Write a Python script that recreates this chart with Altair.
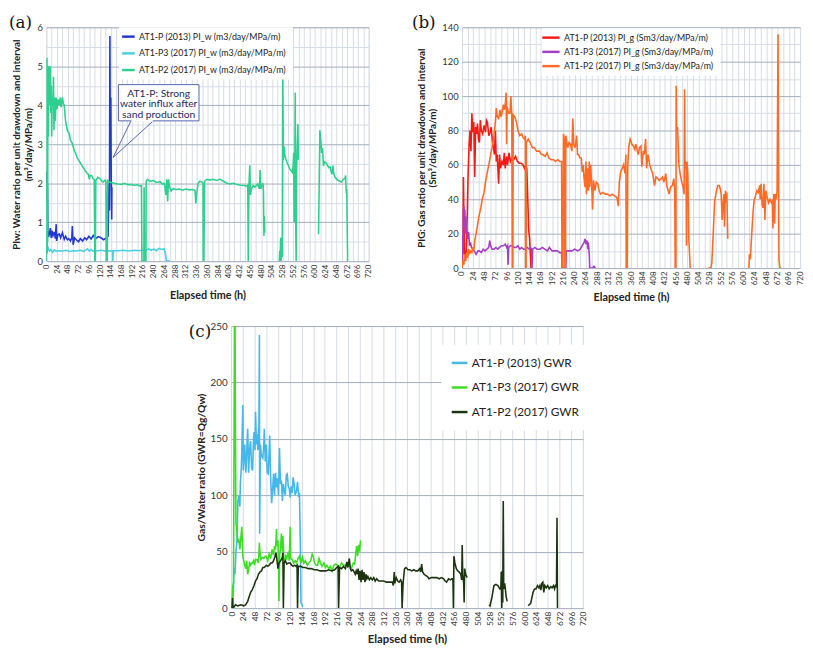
import altair as alt
import pandas as pd

FONT = "Lato"

# ---------------- Panel (a): PI_w ----------------
A_NAMES = ["AT1-P (2013) PI_w (m3/day/MPa/m)",
           "AT1-P3 (2017) PI_w (m3/day/MPa/m)",
           "AT1-P2 (2017) PI_w  (m3/day/MPa/m)"]
A_COLORS = ["#2238d0", "#48cfe3", "#2fcf8f"]

A_P = [(0.5,2.3),(1.5,1.5),(2.5,2.0),(3.5,0.8),(5,0.62),(7,0.7),(9,0.85),(11,0.6),(13,0.78),(15,0.66),
       (18,0.75),(20,0.58),(22,0.95),(23,0.52),(26,0.68),(29,0.7),(32,0.6),(36,0.73),(40,0.56),(43,0.64),
       (47,0.55),(50,0.58),(54,0.52),(57,0.6),(58,0.9),(60,0.42),(63,0.6),(67,0.55),(72,0.5),(76,0.58),
       (81,0.52),(86,0.6),(90,0.55),(95,0.64),(100,0.57),(105,0.66),(110,0.58),(116,0.63),(122,0.6),
       (128,0.55),(134,0.6),(138,0.64),(140,2.0),(141,1.3),(142,5.78),(143,2.6),(144,4.2),(145,2.1),
       (146,1.07),(146.5,1.9)]
A_P3 = [(0,0),(0.5,2.0),(1.5,0.45),(3,0.38),(5,0.3),(7,0.26),(10,0.3),(14,0.23),(18,0.29),(22,0.25),
        (28,0.27),(36,0.26),(44,0.28),(52,0.25),(60,0.27),(68,0.26),(76,0.28),(84,0.25),(92,0.32),(96,0.26),
        (100,0.3),(104,0.26),(108,0.27),(108.5,0),(109.5,0.27),(116,0.27),(123,0.28),(131,0.26),(138,0.27),
        (145,0.26),(148,0.25),(148.5,0),(149.5,0.27),(160,0.27),(172,0.28),(184,0.26),(196,0.28),(208,0.27),
        (216,0.3),(222,0.27),(228,0.32),(234,0.28),(240,0.31),(246,0.27),(252,0.33),(258,0.3),(263,0.32),
        (266,0.2),(268,0.02),(276,0)]
A_P2 = [(0,0),(0.5,5.2),(1,1.5),(1.5,5.22),(2,0.2),(2.5,5.0),(3,0.5),(3.5,4.9),(4.5,3.2),(5.5,5.0),(7,4.0),
        (9,5.0),(10,3.8),(11,4.5),(12,3.2),(13,4.1),(14.5,4.0),(16,4.73),(17,3.36),(19,4.2),(20,3.6),(22,4.2),
        (24,3.9),(26,4.15),(29,4.0),(31,4.2),(33,3.95),(36,4.2),(38,4.05),(40,4.0),(43,3.6),(47,3.35),
        (51,3.28),(54,3.1),(58,3.03),(62,2.85),(65,2.78),(69,2.65),(72,2.6),(76,2.52),(80,2.44),(84,2.38),
        (87,2.32),(91,2.25),(94,2.23),(96,2.1),(98,2.2),(101,2.2),(104,2.12),(107,2.1),(108.5,0),(109.5,0),
        (110.5,2.07),(115,2.15),(120,2.12),(124,2.05),(127,2.03),(131,2.08),(133,2.05),(134,0),(136,0),
        (137,2.07),(141,2.03),(145,2.02),(152,2.0),(160,1.98),(168,1.97),(174,2.0),(182,1.96),(189,1.97),
        (196,1.95),(203,1.96),(209,1.93),(212.5,1.94),(213.5,0),(218,0),(218.5,1.9),(219,0.05),(222.5,0),
        (223,2.05),(226,2.1),(232,2.05),(239,2.07),(246,2.02),(254,2.04),(259,1.98),(263,2.0),(265,1.9),
        (267,1.7),(269,2.1),(271,1.53),(273,2.1),(275.5,1.9),(279,1.8),(283,1.86),(290,1.84),(297,1.85),
        (305,1.82),(312,1.85),(319,1.83),(326,1.84),(332,1.82),(334,1.48),(336,1.75),(339,2.0),(343,2.05),
        (348,2.03),(350,2.0),(350.5,0),(352,0),(353.5,2.05),(358,2.1),(365,2.08),(372,2.1),(380,2.07),
        (388,2.1),(396,2.05),(403,2.0),(410,1.98),(418,2.0),(426,1.97),(434,1.95),(442,1.94),(448,1.92),
        (450,1.95),(451,0),(452.5,1.9),(454.5,2.46),(456,1.7),(458,1.85),(462,1.94),(466,1.9),(472,1.98),
        (476,1.85),(477.5,2.34),(479,1.86),(484,2.0),(485,1.8),(486,0.65),(487,1.15),(488,0.73),
        None,
        (520.5,0),(521.5,0.27),(522,0),(523.5,0.6),(524.5,0),(525.5,0.45),(527,0.1),(528,4.72),(529.5,2.6),
        (531,2.94),(533,2.7),(535,2.62),(538,2.52),(541,2.45),(544,2.36),(547,2.32),(550,2.27),(551.5,2.5),
        (552.5,2.78),(553.5,1.0),(555,2.4),(556,4.32),(557,1.03),(558,0),(559,2.3),(562,3.52),(563,2.6),
        None,
        (608,0.69),(609,1.5),(611,3.36),(613,3.1),(615,2.78),(617,2.9),(619,2.44),(621,2.55),(624,2.53),
        (627,2.48),(631,2.4),(634,2.42),(636,2.3),(638,2.23),(640,2.45),(642,2.25),(645,2.15),(649,2.1),
        (652,2.07),(656,2.05),(659,2.03),(663,2.1),(667,2.12),(668.5,2.2),(670,1.75),(671,1.85),(673,0)]

# callout annotation (data units)
CALLOUT_BOX = [(161, 341, 3.6, 4.53)]
CALLOUT_TEXT = [(251, 4.3, "AT1-P: Strong"), (251, 4.02, "water influx after"), (251, 3.75, "sand production")]
CALLOUT_POINTER = [(189, 3.6), (149, 2.66), (239, 3.6)]

# ---------------- Panel (b): PI_g ----------------
B_NAMES = ["AT1-P  (2013) PI_g  (Sm3/day/MPa/m)",
           "AT1-P3 (2017) PI_g  (Sm3/day/MPa/m)",
           "AT1-P2 (2017) PI_g  (Sm3/day/MPa/m)"]
B_COLORS = ["#f51a14", "#a23fc4", "#ff6a26"]

B_P = [(0,0),(2,10),(3,53),(4,30),(5,12),(7,5),(9,10),(11,30),(13,55),(15,71),(17,80),(19,68),(21,90),(23,79),
       (25,85),(27,53),(29,82),(31,78),(33,84),(35,75),(37,73),(39,86),(41,80),(44,78),(47,83),(50,79),(52,86),
       (54,85),(57,77),(60,79),(62,82),(65,73),(67,70),(69,66),(71,80),(73,62),(75,66),(78,49),(80,66),(82,58),
       (85,62),(88,60),(90,67),(92,58),(95,65),(97,60),(100,67),(103,62),(106,64),(110,63),(114,65),(118,62),
       (122,61),(126,61),(130,60),(133,58),(136,60),(138,58),(140,40),(142,22),(144,17),(146,5),(147,0)]
B_P3 = [(0,0),(1,20),(2,8),(3,34),(4,36),(5,25),(6,34),(7,20),(8,30),(9,24),(11,20),(12,17),(14,21),(16,13),
        (18,15),(20,12),(23,11),(26,10),(30,8),(34,10),(37,10),(41,9),(45,11),(49,10),(53,11),(57,12),(59,16),
        (61,13),(64,11),(68,11),(72,12),(76,11),(80,12),(84,13),(88,13),(92,14),(95,12),(97,13),(98,2),
        (99.5,12),(103,13),(107,13),(111,12),(115,12),(119,13),(123,11),(127,12),(131,11),(135,11),(139,12),
        (143,11),(146,12),(148,11),(149,0),(150.5,11),(155,12),(160,11),(166,11),(171,12),(176,11),(182,10),
        (186,12),(192,10),(197,10),(203,10),(208,9),(212,9),(213,0),(221,0),(222,10),(228,10),(234,10),
        (240,11),(246,10),(252,11),(256,13),(260,15),(262,17),(264,14),(266,16),(268,11),(269,15),(271,8),
        (272,0),(278,0),(281,1),(284,0)]
B_P2 = [(0,0),(2,5),(4,2),(6,8),(8,4),(10,9),(12,6),(14,11),(16,8),(18,10),(21,9),(23,12),(25,10),(27,16),
        (30,20),(33,25),(36,30),(40,35),(43,40),(47,44),(50,50),(54,56),(57,60),(61,66),(64,70),(68,77),
        (71,85),(73,93),(75,88),(78,87),(81,92),(83,88),(85,90),(88,95),(90,92),(92,95),(94,102),(95,72),
        (96,94),(99,90),(102,90),(104,100),(106,89),(107,0),(108,0),(109,89),(112,88),(116,85),(119,80),
        (123,77),(127,78),(130,76),(133,75),(135,77),(135.5,0),(136.5,0),(137,73),(141,75),(145,73),(150,70),
        (154,70),(159,68),(165,68),(169,66),(172,66),(177,65),(181,67),(185,64),(190,63),(195,63),(199,62),
        (204,63),(208,62),(212,62),(213,0),(215,0),(216,78),(218,75),(219,0),(220.5,0),(221,77),(225,70),
        (228,73),(231,72),(234,68),(236,87),(238,72),(241,70),(244,77),(246,66),(248,66),(251,64),(254,64),
        (256,56),(258,60),(260,52),(262,47),(264,62),(265,43),(267,58),(269,45),(271,62),(272,47),(274,60),
        (276,50),(278,34),(280,51),(283,45),(286,50),(289,49),(292,45),(295,43),(300,44),(305,43),(310,43),
        (315,42),(320,43),(325,42),(330,41),(333,36),(335,50),(338,56),(341,58),(344,60),(347,55),(349,66),
        (350,0),(352,0),(353,60),(355,70),(358,75),(362,72),(365,71),(368,69),(370,72),(372,70),(375,66),
        (378,70),(381,71),(383,59),(386,68),(388,66),(391,75),(393,58),(396,66),(400,60),(403,57),(406,55),
        (410,48),(413,53),(417,52),(420,51),(424,52),(427,53),(430,50),(434,55),(436,48),(439,45),(441,43),
        (444,47),(448,48),(451,52),(453,45),(454,0),(455.5,0),(456,106),(457,80),(459,82),(462,60),(465,54),
        (468,50),(471,47),(473,43),(474,104),(475,58),(477,62),(478,13),(479,62),(481,55),(483,17),(485,6),
        (486,0),
        None,
        (524,0),(530,0),(532,3),(535,20),(538,39),(542,45),(545,48),(548,48),(550,46),(552,43),(554,28),
        (556,38),(558,43),(559,24),(561,45),(562,38),(564,44),(566,17),
        None,
        (611,0),(612,8),(614,5),(617,20),(620,33),(622,39),(625,42),(628,45),(631,44),(634,48),(635,40),
        (637,49),(639,37),(641,35),(643,49),(645,28),(647,45),(650,41),(653,38),(656,40),(659,38),(661,39),
        (662,23),(664,43),(666,26),(667,43),(669,40),(671,45),(673,136),(675,5),(677,0),(680,0)]

# ---------------- Panel (c): GWR ----------------
C_NAMES = ["AT1-P (2013) GWR", "AT1-P3 (2017) GWR", "AT1-P2 (2017) GWR"]
C_COLORS = ["#45b7e8", "#3ddc25", "#1c3510"]

C_P = [(3,0),(5,18),(6,35),(8,30),(10,50),(12,60),(14,95),(16,100),(18,90),(19,110),(21,125),(22,139),
       (24,180),(25,122),(27,140),(28,145),(30,120),(31,125),(33,150),(34,159),(36,120),(37,133),(39,146),
       (40,148),(42,125),(44,122),(46,150),(47,156),(49,140),(50,174),(52,145),(53,154),(55,140),(56,159),
       (57,160),(58,242),(58.5,66),(60,145),(62,135),(65,133),(67,145),(68,159),(70,130),(72,145),(74,120),
       (76,119),(77,128),(79,153),(81,115),(83,93),(85,105),(87,119),(89,100),(91,120),(93,107),(95,115),
       (97,100),(99,142),(101,110),(103,113),(105,95),(107,110),(109,104),(111,100),(113,118),(115,119),
       (117,108),(119,106),(121,98),(123,108),(125,102),(127,116),(129,110),(131,100),(134,104),(136,112),
       (138,100),(140,101),(142,50),(143,5),(145,3),(147,1)]
C_P3 = [(2,0),(3,18),(5,23),(7,260),(8,260),(9,150),(10,75),(12,68),(14,58),(16,60),(18,52),(20,62),(22,72),
        (23,60),(24,46),(26,42),(28,38),(30,35),(32,42),(34,30),(36,35),(38,40),(40,38),(42,40),(44,40),
        (46,42),(48,38),(50,43),(53,43),(56,40),(58,58),(59,50),(61,43),(64,45),(67,44),(70,46),(72,46),
        (75,42),(78,48),(81,44),(84,52),(87,47),(89,55),(91,52),(93,70),(94,55),(96,60),(97,42),(98,6),
        (99.5,48),(101,52),(103,66),(105,50),(106,64),(108,45),(110,40),(112,46),(114,44),(117,50),(119,42),
        (121,72),(122,44),(125,43),(128,40),(131,42),(134,40),(137,44),(140,46),(143,40),(146,45),(149,40),
        (152,42),(156,38),(159,40),(163,42),(166,48),(168,46),(171,40),(174,38),(177,38),(180,44),(183,40),
        (186,37),(190,40),(193,36),(196,38),(200,35),(203,37),(207,33),(210,38),(214,39),(218,38),(222,36),
        (226,40),(230,38),(234,38),(238,40),(242,38),(246,35),(250,40),(253,39),(255,48),(257,55),(259,46),
        (261,56),(263,50),(265,60)]
C_P2 = [(2,0),(3,9),(4,0),(6,1),(9,3),(14,2),(20,3),(26,2),(30,3),(34,6),(37,10),(40,14),(43,16),(47,20),
        (50,24),(53,26),(56,30),(59,32),(62,33),(65,36),(68,36),(72,38),(75,37),(78,38),(81,40),(84,40),
        (87,42),(90,46),(92,49),(94,42),(96,35),(98,40),(101,42),(103,43),(105,45),(106,49),(107,0),
        (108.5,40),(111,42),(114,39),(117,40),(121,40),(124,38),(127,37),(130,38),(133,37),(135,38),(136,0),
        (137.5,37),(142,37),(147,36),(152,36),(158,35),(164,35),(170,34),(176,34),(182,33),(188,33),(194,33),
        (200,34),(206,33),(212,34),(216,36),(219,37),(220,0),(222,36),(226,35),(230,37),(234,35),(237,41),
        (239,36),(242,44),(244,35),(246,33),(249,34),(252,32),(254,30),(256,33),(258,30),(260,35),(262,25),
        (264,33),(266,23),(268,34),(270,25),(272,32),(274,23),(276,30),(278,26),(280,28),(283,25),(286,27),
        (289,25),(292,27),(295,24),(298,26),(302,24),(306,24),(312,24),(318,23),(324,23),(330,23),(332,20),
        (334,32),(335,22),(338,27),(341,24),(344,23),(347,25),(349,23),(350,0),(352,22),(355,35),(358,36),
        (362,34),(366,34),(370,33),(374,34),(378,33),(382,33),(386,35),(388,32),(390,39),(392,32),(395,30),
        (398,29),(402,28),(405,26),(410,27),(416,27),(421,27),(426,26),(431,27),(435,26),(438,24),(441,23),
        (445,26),(449,25),(452,26),(454,26),(455,0),(456,46),(458,40),(461,35),(464,33),(467,32),(470,30),
        (472,25),(473,56),(474,30),(476,22),(477,5),(478,35),(480,30),(483,27),
        None,
        (528,3),(530,2),(534,10),(538,20),(542,21),(546,20),(550,17),(552,17),(553,32),(554,0),(555,33),
        (556,5),(557,95),(558,17),(560,22),(563,10),(565,6),
        None,
        (608,2),(610,3),(613,4),(615,8),(618,14),(621,17),(624,17),(627,20),(630,18),(632,20),(634,16),
        (636,22),(638,23),(640,14),(642,20),(645,18),(648,20),(651,17),(654,19),(657,18),(660,20),(662,17),
        (664,20),(666,19),(667,80),(668,0)]


def frame(names, series):
    rows = []
    for name, pts in zip(names, series):
        seg = 0
        for i, p in enumerate(pts):
            if p is None:
                seg += 1
                continue
            rows.append({"s": name, "seg": f"{name}|{seg}", "i": i, "t": p[0], "v": p[1]})
    return pd.DataFrame(rows)


GRID_MINOR = "#d6dce6"
GRID_MAJOR = "#a3adbd"


def make_axes(ymax, ystep, ymajor, ytitle, xgrid_step, st):
    xaxis = alt.Axis(values=list(range(0, 721, xgrid_step)),
                     labelExpr="datum.value % 24 == 0 ? format(datum.value, 'd') : ''",
                     labelOverlap=False,
                     labelAngle=-90, labelFontSize=st["xl"], labelColor="#333", labelFont=FONT,
                     labelPadding=3, tickSize=0, domain=False,
                     gridColor=GRID_MINOR, gridWidth=1,
                     title="Elapsed time  (h)", titleFont=FONT, titleFontSize=st["xt"],
                     titleFontWeight="bold", titleColor="#222", titlePadding=st["xtp"])
    yvals = []
    k = 0
    while k * ystep <= ymax + 1e-9:
        yvals.append(round(k * ystep, 6))
        k += 1
    yaxis = alt.Axis(values=yvals,
                     labelExpr=f"abs(datum.value % {ymajor}) < 1e-6 ? format(datum.value, 'd') : ''",
                     labelOverlap=False,
                     labelFontSize=st["yl"], labelColor="#333", labelFont=FONT, tickSize=0, domain=False,
                     labelPadding=4,
                     gridColor={"condition": {"test": f"abs(datum.value % {ymajor}) < 1e-6",
                                              "value": GRID_MAJOR},
                                "value": GRID_MINOR},
                     gridWidth=1,
                     title=ytitle, titleFont=FONT, titleFontSize=st["yt"], titleFontWeight="bold",
                     titleColor="#222", titlePadding=4)
    return xaxis, yaxis


def panel(df, names, colors, ymax, ystep, ymajor, width, height, ytitle, xgrid_step,
          leg, tag, tag_xy, st, extra=None):
    xaxis, yaxis = make_axes(ymax, ystep, ymajor, ytitle, xgrid_step, st)
    xs = alt.Scale(domain=[0, 720], nice=False, zero=False)
    ys = alt.Scale(domain=[0, ymax], nice=False)
    s = leg["s"]
    L = leg["L"]
    path = f"M{-L},0L{L},0"
    label_off = L * s / 2 - s / 2 + 3
    base = alt.Chart(df)
    lines = base.mark_line(strokeWidth=1.6, clip=True, interpolate="linear").encode(
        x=alt.X("t:Q", scale=xs, axis=xaxis),
        y=alt.Y("v:Q", scale=ys, axis=yaxis),
        color=alt.Color("s:N", scale=alt.Scale(domain=names, range=colors),
                        sort=names,
                        legend=alt.Legend(orient="none", legendX=leg["x"], legendY=leg["y"],
                                          title=None, fillColor="white", padding=leg["pad"],
                                          symbolType=path, symbolSize=s * s,
                                          symbolStrokeWidth=2.5, labelFontSize=leg["fs"],
                                          labelFont=FONT, labelColor="#222",
                                          rowPadding=leg["rp"], labelOffset=label_off,
                                          labelLimit=400)),
        detail="seg:N",
        order="i:Q",
    )
    tagdf = pd.DataFrame({"txt": [tag]})
    tagmark = alt.Chart(tagdf).mark_text(font="DejaVu Serif", fontSize=17, align="left",
                                         baseline="middle", color="#111").encode(
        x=alt.value(tag_xy[0]), y=alt.value(tag_xy[1]), text="txt:N")
    layers = [lines]
    if extra:
        layers += extra(alt.X("t:Q", scale=xs, axis=xaxis), alt.Y("v:Q", scale=ys, axis=yaxis))
    layers.append(tagmark)
    return alt.layer(*layers).properties(width=width, height=height)


def callout_layers(X, Y):
    bx = pd.DataFrame([{"t": b[0], "t2": b[1], "v": b[2], "v2": b[3]} for b in CALLOUT_BOX])
    box = alt.Chart(bx).mark_rect(fill="white", stroke="#5564b4", strokeWidth=1).encode(
        x=X, x2="t2:Q", y=Y, y2="v2:Q")
    pdf = pd.DataFrame([{"t": p[0], "v": p[1], "o": i} for i, p in enumerate(CALLOUT_POINTER)])
    pointer = alt.Chart(pdf).mark_line(stroke="#5564b4", strokeWidth=1).encode(
        x=X, y=Y, order="o:Q")
    gdf = pd.DataFrame([{"t": CALLOUT_POINTER[0][0] + 1, "t2": CALLOUT_POINTER[2][0] - 1,
                         "v": CALLOUT_POINTER[0][1]}])
    gap = alt.Chart(gdf).mark_rule(stroke="white", strokeWidth=2).encode(x=X, x2="t2:Q", y=Y)
    tdf = pd.DataFrame([{"t": t[0], "v": t[1], "txt": t[2]} for t in CALLOUT_TEXT])
    ctext = alt.Chart(tdf).mark_text(font=FONT, fontSize=10.5, color="#1f2a5c",
                                     baseline="middle").encode(x=X, y=Y, text="txt:N")
    return [pointer, box, gap, ctext]


dfa = frame(A_NAMES, [A_P, A_P3, A_P2])
dfb = frame(B_NAMES, [B_P, B_P3, B_P2])
dfc = frame(C_NAMES, [C_P, C_P3, C_P2])

chart_a = panel(dfa, A_NAMES, A_COLORS, 6, 0.5, 1, 328, 238,
                ["PIw: Water ratio per unit drawdown and interval", "(m³/day/MPa/m)"], 12,
                {"x": 74, "y": 0, "pad": 4, "s": 8, "L": 1.6, "fs": 9, "rp": 6},
                "(a)", (-38, -4),
                {"xl": 8, "xt": 11, "xtp": 12, "yl": 9.5, "yt": 10},
                extra=callout_layers)
chart_b = panel(dfb, B_NAMES, B_COLORS, 140, 10, 20, 344, 245,
                ["PIG: Gas ratio per unit drawdown and interval", "(Sm³/day/MPa/m)"], 12,
                {"x": 81, "y": 1, "pad": 4, "s": 8, "L": 2.2, "fs": 9, "rp": 3.5},
                "(b)", (-51, -4),
                {"xl": 8, "xt": 11, "xtp": 7, "yl": 9.5, "yt": 10})
chart_c = panel(dfc, C_NAMES, C_COLORS, 250, 50, 50, 358, 287,
                "Gas/Water ratio (GWR=Qg/Qw)", 24,
                {"x": 214, "y": 19, "pad": 12, "s": 10, "L": 1.6, "fs": 12, "rp": 12},
                "(c)", (-43, 6),
                {"xl": 8.5, "xt": 11.5, "xtp": 8, "yl": 10, "yt": 10.5})

spacer = alt.Chart(pd.DataFrame({"v": [0]})).mark_point(opacity=0).encode(
    x=alt.value(0), y=alt.value(0)).properties(width=143, height=10,
                                               view=alt.ViewBackground(stroke="transparent"))

top = alt.hconcat(chart_a, chart_b, spacing=38).resolve_scale(color="independent")
bottom = alt.hconcat(spacer, chart_c, spacing=0).resolve_scale(color="independent")
chart = alt.vconcat(top, bottom, spacing=17).resolve_scale(color="independent").properties(
    padding={"left": 0, "top": 0, "right": 0, "bottom": 0}
).configure_view(stroke="#b8c0cc", strokeWidth=1).configure(background="white")

chart.save("out.html", embed_options={"renderer": "svg", "actions": False})
